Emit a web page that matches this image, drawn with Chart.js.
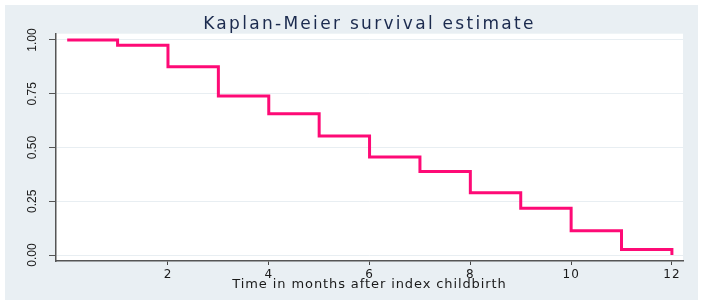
<!DOCTYPE html>
<html>
<head>
<meta charset="utf-8">
<script src="https://cdn.jsdelivr.net/npm/chart.js@4/dist/chart.umd.min.js"></script>
<style>
  html, body { margin: 0; padding: 0; background: #ffffff; }
  canvas { display: block; }
</style>
</head>
<body>
<canvas id="c" width="702" height="305"></canvas>
<script>
// ---- data ----
const chartTitle = "Kaplan-Meier survival estimate";
const xAxisTitle = "Time in months after index childbirth";
const months = [0, 1, 2, 3, 4, 5, 6, 7, 8, 9, 10, 11, 12];
const survival = [1.000, 0.976, 0.876, 0.739, 0.657, 0.553, 0.456, 0.388, 0.289, 0.217, 0.113, 0.026, 0.000];
const xTickValues = [2, 4, 6, 8, 10, 12];
const yTickValues = [0, 0.25, 0.5, 0.75, 1.0];

const points = months.map((m, i) => ({ x: m, y: survival[i] }));

const framePlugin = {
  id: 'frame',
  beforeDraw(chart) {
    const ctx = chart.ctx, a = chart.chartArea;
    ctx.save();
    ctx.fillStyle = '#ffffff';
    ctx.fillRect(0, 0, chart.width, chart.height);
    ctx.fillStyle = '#e9eff3';
    ctx.fillRect(5, 5, 693, 295);
    ctx.fillStyle = '#ffffff';
    ctx.fillRect(a.left, a.top, a.right - a.left, a.bottom - a.top);
    ctx.restore();

    // letter spacing to mimic the wide lettering of the reference
    const wrap = (obj, name, sp) => {
      const orig = obj[name];
      obj[name] = function (...args) {
        const c = chart.ctx;
        c.save();
        c.letterSpacing = sp;
        const r = orig.apply(this, args);
        c.restore();
        return r;
      };
    };
    const tb = chart.titleBlock;
    if (tb && !tb.__p) { wrap(tb, 'draw', '2.3px'); tb.__p = true; }
    const xs = chart.scales.x;
    if (xs && !xs.__p) { wrap(xs, 'drawTitle', '0.9px'); wrap(xs, 'drawLabels', '1px'); xs.__p = true; }
  }
};

new Chart(document.getElementById('c'), {
  type: 'line',
  data: {
    datasets: [{
      label: 'Survival',
      data: points,
      stepped: true,
      borderColor: '#fe0a76',
      borderWidth: 3,
      pointRadius: 0,
      fill: false,
      borderJoinStyle: 'miter',
      borderCapStyle: 'butt'
    }]
  },
  options: {
    responsive: false,
    animation: false,
    layout: { padding: { left: 5, right: 19, top: 0, bottom: 5 } },
    plugins: {
      legend: { display: false },
      tooltip: { enabled: false },
      title: {
        display: true,
        text: chartTitle,
        fullSize: false,
        color: '#1b2a4e',
        font: { family: 'DejaVu Sans', size: 17, weight: 'normal', lineHeight: 1.1 },
        padding: { top: 15, bottom: 0 }
      }
    },
    scales: {
      x: {
        type: 'linear',
        min: -0.222,
        max: 12.22,
        afterBuildTicks: s => { s.ticks = xTickValues.map(v => ({ value: v })); },
        afterFit: s => { s.height = 39; },
        grid: { drawOnChartArea: false, drawTicks: true, tickLength: 4, tickColor: '#444', tickWidth: 1 },
        border: { color: '#555', width: 1.5 },
        ticks: {
          color: '#1a1a1a',
          padding: 3,
          maxRotation: 0,
          font: { family: 'DejaVu Sans', size: 12 },
          callback: v => String(v)
        },
        title: {
          display: true,
          text: xAxisTitle,
          color: '#1a1a1a',
          font: { family: 'DejaVu Sans', size: 13, lineHeight: 1.2 },
          padding: { top: 0, bottom: 8 }
        }
      },
      y: {
        type: 'linear',
        min: -0.0278,
        max: 1.0292,
        afterBuildTicks: s => { s.ticks = yTickValues.map(v => ({ value: v })); },
        afterFit: s => { s.width = 51; },
        grid: { color: '#e8eef2', lineWidth: 1, drawTicks: true, tickLength: 7, tickColor: '#555', tickWidth: 1 },
        border: { color: '#555', width: 1.5 },
        ticks: {
          color: '#1a1a1a',
          padding: 5,
          minRotation: 90,
          maxRotation: 90,
          crossAlign: 'center',
          font: { family: 'Liberation Sans', size: 12 },
          callback: v => Number(v).toFixed(2)
        }
      }
    }
  },
  plugins: [framePlugin]
});
</script>
</body>
</html>
